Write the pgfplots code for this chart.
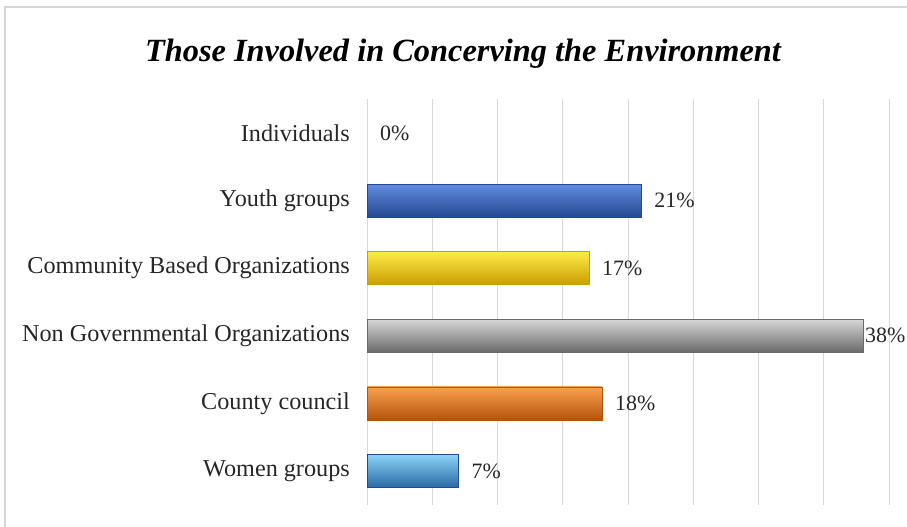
\documentclass[border=0pt]{standalone}
\usepackage{fontspec}
\setmainfont{Liberation Serif}
\usepackage{pgfplots}
\pgfplotsset{compat=1.18}
\definecolor{gridc}{RGB}{217,217,217}
\definecolor{framec}{RGB}{214,214,214}
\definecolor{txt}{RGB}{38,38,38}
\definecolor{bT}{RGB}{96,140,225}\definecolor{bM}{RGB}{58,104,198}\definecolor{bB}{RGB}{38,72,145}
\definecolor{yT}{RGB}{255,235,70}\definecolor{yM}{RGB}{255,208,0}\definecolor{yB}{RGB}{200,158,0}
\definecolor{gT}{RGB}{215,215,215}\definecolor{gM}{RGB}{165,165,165}\definecolor{gB}{RGB}{105,105,105}
\definecolor{oT}{RGB}{250,160,80}\definecolor{oM}{RGB}{238,118,30}\definecolor{oB}{RGB}{180,84,12}
\definecolor{lT}{RGB}{140,212,247}\definecolor{lM}{RGB}{62,155,218}\definecolor{lB}{RGB}{40,105,165}
\begin{document}
\begin{tikzpicture}[x=1bp,y=1bp]
\useasboundingbox (0,0) rectangle (907,527);
\draw[framec, line width=1.2bp] (5,-20) -- (5,520) -- (940,520);
\node[font=\fontsize{32.5}{38}\selectfont\bfseries\itshape, text=black] at (463,473) {Those Involved in Concerving the Environment};
\begin{axis}[
  at={(367bp,22.2bp)}, anchor=south west,
  scale only axis, width=522bp, height=405.6bp,
  xmin=0, xmax=40, ymin=0.5, ymax=6.5,
  xbar, bar width=33bp, bar shift=0pt,
  axis line style={draw=none},
  xtick={0,5,...,40}, xticklabels={},
  xmajorgrids, major grid style={gridc, line width=0.9bp},
  ytick={1,2,3,4,5,6},
  yticklabels={Women groups, County council, Non Governmental Organizations, Community Based Organizations, Youth groups, Individuals},
  yticklabel style={font=\fontsize{24.3}{29}\selectfont, text=txt, inner sep=0pt, xshift=-17bp},
  major tick length=0pt,
  clip=false,
  point meta=x,
  /pgf/number format/assume math mode=true,
  nodes near coords={\pgfmathprintnumber{\pgfplotspointmeta}\%},
  every node near coord/.append style={font=\fontsize{22}{26}\selectfont, text=txt, anchor=west, inner sep=0pt, xshift=13bp},
]
\addplot[draw=bB, line width=0.6bp, top color=lT, middle color=lM, bottom color=lB] coordinates {(7,1)};
\addplot[draw=oB, line width=0.6bp, top color=oT, middle color=oM, bottom color=oB] coordinates {(18,2)};
\addplot[draw=gB, line width=0.6bp, top color=gT, middle color=gM, bottom color=gB,
  every node near coord/.append style={xshift=-11bp}] coordinates {(38,3)};
\addplot[draw=yB, line width=0.6bp, top color=yT, middle color=yM, bottom color=yB] coordinates {(17,4)};
\addplot[draw=bB, line width=0.6bp, top color=bT, middle color=bM, bottom color=bB] coordinates {(21,5)};
\addplot[draw=none, fill=none] coordinates {(0,6)};
\end{axis}
\end{tikzpicture}
\end{document}
